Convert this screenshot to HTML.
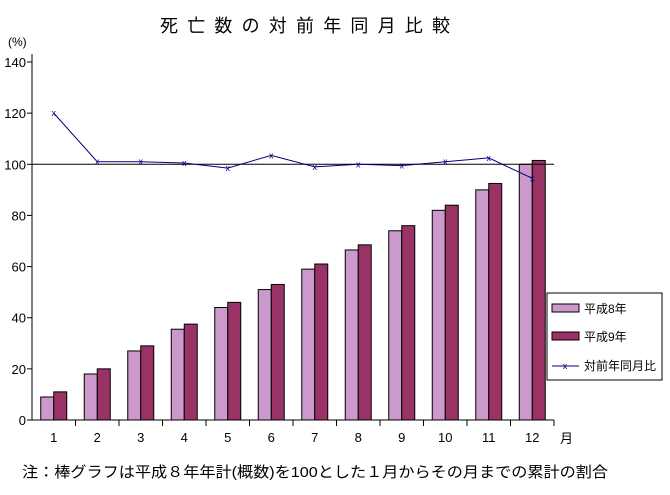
<!DOCTYPE html>
<html><head><meta charset="utf-8"><style>
body{margin:0;background:#fff;}
svg text{font-family:"Liberation Sans","Noto Sans CJK JP",sans-serif;}
</style></head><body>
<svg width="670" height="490" viewBox="0 0 670 490">
<text x="160" y="32" font-size="18" textLength="290" lengthAdjust="spacing">死亡数の対前年同月比較</text>
<text x="8" y="46" font-size="12">(%)</text>
<g id="plot"></g>
<text x="560" y="443" font-size="13">月</text>
<text x="22" y="477" font-size="15" textLength="586" lengthAdjust="spacingAndGlyphs">注：棒グラフは平成８年年計(概数)を100とした１月からその月までの累計の割合</text>
<g>
<rect x="547" y="293" width="115" height="87" fill="#fff" stroke="#000"/>
<rect x="552" y="304" width="27" height="8" fill="#cc99cc" stroke="#000"/>
<text x="584" y="313" font-size="12">平成8年</text>
<rect x="552" y="332" width="27" height="8" fill="#993366" stroke="#000"/>
<text x="584" y="341" font-size="12">平成9年</text>
<line x1="552" y1="366" x2="579" y2="366" stroke="#000080"/>
<text x="565" y="369" font-size="9" fill="#000080" text-anchor="middle">x</text>
<text x="584" y="370" font-size="12">対前年同月比</text>
</g>
</svg>
<script>
const categories=["1","2","3","4","5","6","7","8","9","10","11","12"];
const h8=[9,18,27,35.5,44,51,59,66.5,74,82,90,100];
const h9=[11,20,29,37.5,46,53,61,68.5,76,84,92.5,101.5];
const ratio=[120,101,101,100.5,98.5,103.5,99,100,99.5,101,102.5,94.5];
const yTicks=[0,20,40,60,80,100,120,140];
const NS="http://www.w3.org/2000/svg";
const g=document.getElementById('plot');
const x0=32,x1=554,yb=420,yt=62;
const bw=(x1-x0)/categories.length;
function y(v){return yb-(v/140)*(yb-yt);}
function cx(i){return x0+bw*(i+0.5);}
function mk(t,a){const e=document.createElementNS(NS,t);for(const k in a)e.setAttribute(k,a[k]);g.appendChild(e);return e;}
let e=mk('line',{x1:x0,y1:yt-8,x2:x0,y2:yb,stroke:'#000'});


yTicks.forEach(v=>{
 mk('line',{x1:x0-5,y1:y(v),x2:x0,y2:y(v),stroke:'#000'});
 const t=mk('text',{x:x0-6,y:y(v)+5,'font-size':13,'text-anchor':'end'});t.textContent=v;
 
 
});
categories.forEach((c,i)=>{
 const b1=mk('rect',{x:cx(i)-13,y:y(h8[i]),width:13,height:yb-y(h8[i]),fill:'#cc99cc',stroke:'#000'});
 
 
 const b2=mk('rect',{x:cx(i),y:y(h9[i]),width:13,height:yb-y(h9[i]),fill:'#993366',stroke:'#000'});
 
 
 mk('line',{x1:x0+bw*(i+1),y1:yb,x2:x0+bw*(i+1),y2:yb+6,stroke:'#000'});
 const t=mk('text',{x:cx(i),y:yb+22,'font-size':13,'text-anchor':'middle'});t.textContent=c;
 
 
});
e=mk('line',{x1:x0,y1:yb,x2:x1,y2:yb,stroke:'#000'});


e=mk('line',{x1:x0,y1:y(100),x2:x1,y2:y(100),stroke:'#000'});


e=mk('polyline',{points:ratio.map((v,i)=>cx(i)+','+y(v)).join(' '),fill:'none',stroke:'#000080'});


ratio.forEach((v,i)=>{
 const p=mk('text',{x:cx(i),y:y(v)+3,'font-size':9,fill:'#000080','text-anchor':'middle'});p.textContent='x';
 
 
});
</script>
</body></html>
